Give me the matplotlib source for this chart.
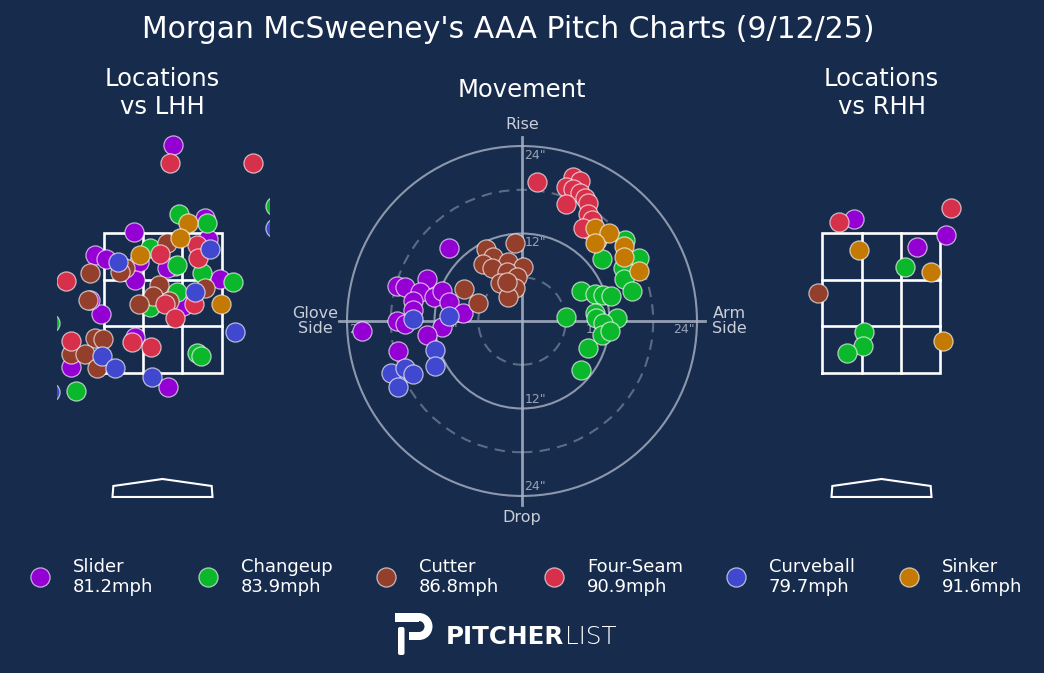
import matplotlib
matplotlib.use("Agg")
import matplotlib.pyplot as plt
from matplotlib.patches import Circle, Rectangle, Polygon, Wedge, FancyBboxPatch
import numpy as np

# ---------------- DATA ----------------
pitch_names = ["Slider", "Changeup", "Cutter", "Four-Seam", "Curveball", "Sinker"]
pitch_speeds = [81.2, 83.9, 86.8, 90.9, 79.7, 91.6]
pitch_colors = ["#9400d3", "#0bb82c", "#933f2c", "#d7304b", "#4048d0", "#c47a02"]

# Movement (inches): horizontal break (glove side negative), induced vertical break
mov_slider_x = [-10.0, -17.1, -16.0, -13.0, -14.0, -15.0, -12.1, -11.0, -10.0, -15.0, -17.1, -16.0, -11.0, -8.1, -13.0, -21.9, -17.0]
mov_slider_y = [10.0, 4.8, 4.7, 5.8, 4.0, 2.7, 3.3, 4.1, 2.6, 1.5, 0.0, -0.4, -0.8, 1.1, -1.9, -1.4, -4.1]
mov_change_x = [14.1, 16.0, 11.0, 13.9, 14.0, 15.1, 8.1, 10.0, 11.1, 12.2, 6.0, 10.0, 10.2, 13.0, 11.1, 11.0, 12.1, 9.1, 8.1]
mov_change_y = [11.1, 8.6, 8.5, 7.3, 5.8, 4.1, 4.1, 3.7, 3.6, 3.4, 0.5, 1.1, 0.4, 0.4, -0.3, -1.9, -1.4, -3.7, -6.7]
mov_cutter_x = [-1.0, -4.9, -4.0, -5.3, -1.9, 0.1, -4.1, -2.1, -0.7, -3.0, -1.0, -1.9, -8.0, -6.0, -2.1]
mov_cutter_y = [10.7, 9.9, 8.8, 7.8, 8.1, 7.4, 7.3, 6.7, 6.0, 5.2, 4.5, 3.3, 4.4, 2.5, 5.3]
mov_four_x = [2.1, 7.0, 8.0, 6.0, 7.0, 8.0, 8.6, 6.0, 9.1, 9.1, 9.6, 9.3, 10.3, 8.4]
mov_four_y = [19.1, 19.8, 19.2, 18.4, 18.1, 17.6, 16.9, 16.0, 16.2, 14.7, 13.9, 12.5, 11.1, 12.8]
mov_curve_x = [-15.0, -10.0, -11.9, -11.9, -18.0, -16.0, -15.0, -17.0]
mov_curve_y = [0.3, 0.7, -4.0, -6.2, -7.1, -6.4, -7.3, -9.1]
mov_sinker_x = [10.0, 11.9, 10.0, 14.0, 14.0, 16.0]
mov_sinker_y = [12.8, 12.1, 10.7, 10.3, 8.8, 6.9]

# Locations vs LHH (feet): plate_x, plate_z
lhh_slider_x = [0.13, 0.51, -0.34, 0.55, -0.81, -0.68, -0.28, -0.33, 0.15, 0.05, 0.69, -0.74, 0.25, -1.10, 0.07, -0.33, -0.87]
lhh_slider_z = [4.76, 3.71, 3.51, 3.41, 3.19, 3.13, 3.09, 2.83, 3.03, 3.00, 2.84, 2.34, 2.46, 1.59, 1.30, 2.01, 2.54]
lhh_change_x = [0.20, 0.53, 1.35, -0.15, 0.17, 0.47, 0.85, 0.17, -0.15, 0.41, 0.46, -1.04, -1.35]
lhh_change_z = [3.77, 3.64, 3.89, 3.29, 3.04, 2.93, 2.80, 2.66, 2.44, 1.79, 1.74, 1.24, 2.21]
lhh_cutter_x = [0.05, -0.87, -0.45, -0.51, -0.04, -0.11, 0.51, -0.28, 0.08, -0.89, -0.81, -0.71, -1.10, -0.93, -0.79]
lhh_cutter_z = [3.36, 2.93, 3.00, 2.94, 2.76, 2.60, 2.71, 2.49, 2.53, 2.54, 2.00, 1.99, 1.77, 1.77, 1.57]
lhh_four_x = [0.09, 1.09, 0.41, 0.43, -0.03, -1.16, 0.03, 0.38, 0.15, -1.10, -0.37, -0.14]
lhh_four_z = [4.50, 4.50, 3.33, 3.14, 3.20, 2.81, 2.49, 2.49, 2.29, 1.96, 1.94, 1.87]
lhh_curve_x = [1.35, 0.57, -0.53, 0.87, -0.73, -0.57, -0.13, 0.39, -1.35]
lhh_curve_z = [3.57, 3.27, 3.09, 2.09, 1.74, 1.57, 1.44, 2.66, 1.23]
lhh_sinker_x = [0.31, 0.21, -0.27, 0.70]
lhh_sinker_z = [3.64, 3.43, 3.19, 2.49]

# Locations vs RHH (feet)
rhh_slider_x = [-0.33, 0.43, 0.77]
rhh_slider_z = [3.70, 3.30, 3.47]
rhh_change_x = [0.28, -0.21, -0.22, -0.41]
rhh_change_z = [3.01, 2.09, 1.89, 1.79]
rhh_cutter_x = [-0.76]
rhh_cutter_z = [2.64]
rhh_four_x = [-0.51, 0.83]
rhh_four_z = [3.66, 3.86]
rhh_curve_x = []
rhh_curve_z = []
rhh_sinker_x = [-0.27, 0.59, 0.74]
rhh_sinker_z = [3.26, 2.94, 1.96]

title = "Morgan McSweeney's AAA Pitch Charts (9/12/25)"

# ---------------- STYLE / LAYOUT ----------------
BG = "#172b4d"
W, H = 1044, 673
fig = plt.figure(figsize=(W / 100, H / 100), dpi=100, facecolor=BG)

MS = 190
EDGE = (1, 1, 1, 0.65)

def px_axes(left, top, width, height):
    return fig.add_axes([left / W, (H - top - height) / H, width / W, height / H])

mov = [(mov_slider_x, mov_slider_y), (mov_change_x, mov_change_y), (mov_cutter_x, mov_cutter_y),
       (mov_four_x, mov_four_y), (mov_curve_x, mov_curve_y), (mov_sinker_x, mov_sinker_y)]
lhh = [(lhh_slider_x, lhh_slider_z), (lhh_change_x, lhh_change_z), (lhh_cutter_x, lhh_cutter_z),
       (lhh_four_x, lhh_four_z), (lhh_curve_x, lhh_curve_z), (lhh_sinker_x, lhh_sinker_z)]
rhh = [(rhh_slider_x, rhh_slider_z), (rhh_change_x, rhh_change_z), (rhh_cutter_x, rhh_cutter_z),
       (rhh_four_x, rhh_four_z), (rhh_curve_x, rhh_curve_z), (rhh_sinker_x, rhh_sinker_z)]

# ---------- location panels ----------
def location_panel(cx_px, sets, label):
    ax = px_axes(cx_px - 106, 128, 212, 382)
    ax.set_facecolor("none")
    ax.set_xlim(-1.272, 1.272)
    ax.set_ylim(-0.457, 5.0)
    ax.axis("off")
    hw = 0.708
    zb, zt = 1.5, 3.5
    zc = "white"
    lw = 1.9
    ax.plot([-hw, hw, hw, -hw, -hw], [zb, zb, zt, zt, zb], color=zc, lw=lw, zorder=1, solid_joinstyle="miter")
    for xv in (-hw / 3, hw / 3):
        ax.plot([xv, xv], [zb, zt], color=zc, lw=lw, zorder=1)
    for yv in (zb + (zt - zb) / 3, zb + 2 * (zt - zb) / 3):
        ax.plot([-hw, hw], [yv, yv], color=zc, lw=lw, zorder=1)
    plate = np.array([[-0.6, -0.271], [-0.59, -0.114], [0.0, -0.014], [0.59, -0.114], [0.6, -0.271]])
    ax.add_patch(Polygon(plate, closed=True, fill=False, edgecolor="white", lw=1.5, zorder=1))
    for (xs, ys), c in zip(sets, pitch_colors):
        if len(xs):
            ax.scatter(xs, ys, s=MS, color=c, edgecolors=EDGE, linewidths=0.9, zorder=3)
    fig.text(cx_px / W, 1 - 93 / H, label, color="white", fontsize=17.5, ha="center", va="center",
             linespacing=1.2)

location_panel(162.5, lhh, "Locations\nvs LHH")
location_panel(881.5, rhh, "Locations\nvs RHH")

# ---------- movement panel ----------
PPI = 7.29  # pixels per inch
R = 190
axm = px_axes(522 - R, 321 - R, 2 * R, 2 * R)
axm.set_facecolor("none")
lim = R / PPI
axm.set_xlim(-lim, lim)
axm.set_ylim(-lim, lim)
axm.axis("off")
ring_c = "#aab3c5"
for r in (12, 24):
    axm.add_patch(Circle((0, 0), r, fill=False, edgecolor=ring_c, lw=1.5, alpha=0.8, zorder=1))
for r in (6, 18):
    axm.add_patch(Circle((0, 0), r, fill=False, edgecolor="#6f7b93", lw=1.5, alpha=0.8,
                         linestyle=(0, (5, 3.5)), zorder=1))
axm.plot([-25.1, 25.1], [0, 0], color=ring_c, lw=2.0, alpha=0.85, zorder=1)
axm.plot([0, 0], [-25.2, 25.2], color=ring_c, lw=2.0, alpha=0.85, zorder=1)
tick_c = "#98a2b6"
for r in (12, 24):
    axm.text(0.35, r - 1.3, f'{r}"', color=tick_c, fontsize=9, ha="left", va="center", zorder=2)
    axm.text(0.35, -(r - 1.3), f'{r}"', color=tick_c, fontsize=9, ha="left", va="center", zorder=2)
    axm.text(r - 1.8, -1.1, f'{r}"', color=tick_c, fontsize=9, ha="center", va="center", zorder=2)
    axm.text(-(r - 1.8), -1.1, f'{r}"', color=tick_c, fontsize=9, ha="center", va="center", zorder=2)
lab_c = "#c9ced8"
axm.text(0, 27.0, "Rise", color=lab_c, fontsize=11.5, ha="center", va="center", clip_on=False)
axm.text(0, -26.9, "Drop", color=lab_c, fontsize=11.5, ha="center", va="center", clip_on=False)
axm.text(-28.4, 0, "Glove\nSide", color=lab_c, fontsize=11.5, ha="center", va="center",
         linespacing=1.0, clip_on=False)
axm.text(28.5, 0, "Arm\nSide", color=lab_c, fontsize=11.5, ha="center", va="center",
         linespacing=1.0, clip_on=False)
for (xs, ys), c in zip(mov, pitch_colors):
    axm.scatter(xs, ys, s=MS, color=c, edgecolors=EDGE, linewidths=0.9, zorder=3)
fig.text(522 / W, 1 - 90 / H, "Movement", color="white", fontsize=17.5, ha="center", va="center")

# ---------- title ----------
fig.text(508 / W, 1 - 29 / H, title, color="white", fontsize=21.5, ha="center", va="center")

# ---------- overlay: legend + logo ----------
ov = fig.add_axes([0, 0, 1, 1])
ov.set_xlim(0, W)
ov.set_ylim(H, 0)
ov.axis("off")
ov.set_facecolor("none")
legend_x = [40, 208, 386, 554, 736, 909]
for lx, name, spd, c in zip(legend_x, pitch_names, pitch_speeds, pitch_colors):
    ov.scatter([lx], [577], s=MS, color=c, edgecolors=EDGE, linewidths=0.9)
    ov.text(lx + 33, 577, f"{name}\n{spd:.1f}mph", color="white", fontsize=13, ha="left",
            va="center", linespacing=1.1)

# logo icon
logo_c = "white"
ov.add_patch(FancyBboxPatch((398, 627), 6.5, 28, boxstyle="round,pad=0,rounding_size=2",
                            facecolor=logo_c, edgecolor="none"))
ov.add_patch(Rectangle((395, 613), 24, 8.5, facecolor=logo_c, edgecolor="none"))
ov.add_patch(Wedge((419, 626.5), 13.5, -90, 90, width=8.0, facecolor=logo_c, edgecolor="none"))
ov.add_patch(Rectangle((409, 632), 10.5, 8.0, facecolor=logo_c, edgecolor="none"))
ov.text(446, 637, "PITCHER", color="white", fontsize=17.7, fontweight="bold", ha="left", va="center")
ov.text(565, 637, "LIST", color="white", fontsize=17.7, fontweight="light", ha="left", va="center")

fig.savefig("out.png", dpi=100, facecolor=BG)
